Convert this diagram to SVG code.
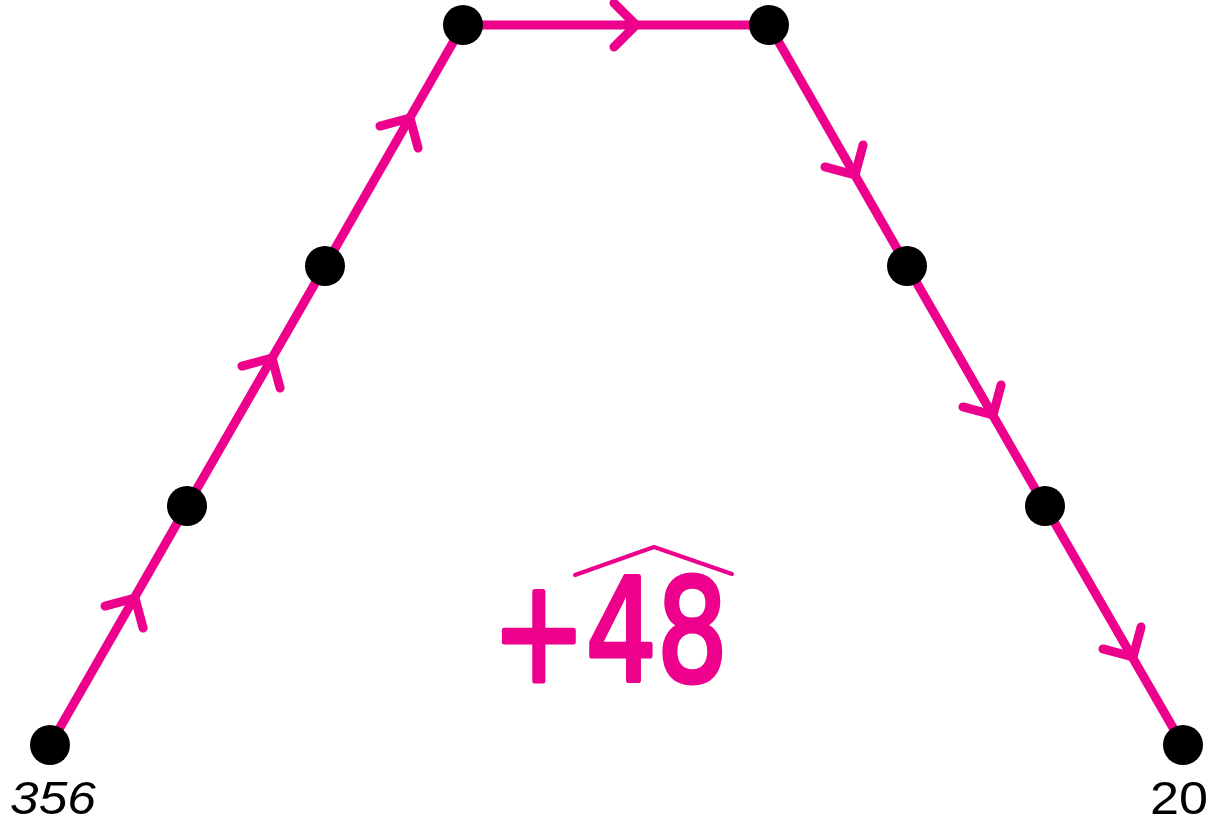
<svg xmlns="http://www.w3.org/2000/svg" xmlns:xlink="http://www.w3.org/1999/xlink" width="1222" height="826" viewBox="0 0 1222 826">
<style>
.edge{stroke:#EC008C;stroke-width:9;fill:none;stroke-linecap:round;stroke-linejoin:round}
.dot{fill:#000}
.lbl{font-family:"Liberation Sans",Arial,sans-serif;font-size:46px;fill:#000}
.big{font-family:"DejaVu Sans","Liberation Sans",sans-serif;fill:#EC008C;stroke:#EC008C;stroke-width:5;stroke-linejoin:round}
</style>
<defs>
<path id="chev" class="edge" d="M-22,-22 L0,0 L-22,22"/>
</defs>
<rect width="1222" height="826" fill="#fff"/>
<g id="connectors">
<polyline class="edge" points="50,745 187,506 325,266 463,25 769,25 907,266 1045,506 1183,745"/>
<use xlink:href="#chev" href="#chev" transform="translate(135,598) rotate(-60.1)"/>
<use xlink:href="#chev" href="#chev" transform="translate(272,358) rotate(-60.1)"/>
<use xlink:href="#chev" href="#chev" transform="translate(410,118) rotate(-60.1)"/>
<use xlink:href="#chev" href="#chev" transform="translate(636,25)"/>
<use xlink:href="#chev" href="#chev" transform="translate(855,175) rotate(60.1)"/>
<use xlink:href="#chev" href="#chev" transform="translate(993,415) rotate(60.1)"/>
<use xlink:href="#chev" href="#chev" transform="translate(1133,657) rotate(60.1)"/>
</g>
<g id="n1"><circle class="dot" cx="50" cy="745" r="20"/><text class="lbl" x="10" y="814" font-style="italic" textLength="86" lengthAdjust="spacingAndGlyphs">356</text></g>
<g id="n2"><circle class="dot" cx="187" cy="506" r="20"/></g>
<g id="n3"><circle class="dot" cx="325" cy="266" r="20"/></g>
<g id="n4"><circle class="dot" cx="463" cy="25" r="20"/></g>
<g id="n5"><circle class="dot" cx="769" cy="25" r="20"/></g>
<g id="n6"><circle class="dot" cx="907" cy="266" r="20"/></g>
<g id="n7"><circle class="dot" cx="1045" cy="506" r="20"/></g>
<g id="n8"><circle class="dot" cx="1183" cy="745" r="20"/><text class="lbl" x="1150" y="814" textLength="58" lengthAdjust="spacingAndGlyphs">20</text></g>
<g id="label">
<text class="big" x="492" y="681" font-size="142" textLength="236" lengthAdjust="spacingAndGlyphs">+48</text>
<polyline class="edge" style="stroke-width:4" points="575,575 654,547 732,574"/>
</g>
</svg>
